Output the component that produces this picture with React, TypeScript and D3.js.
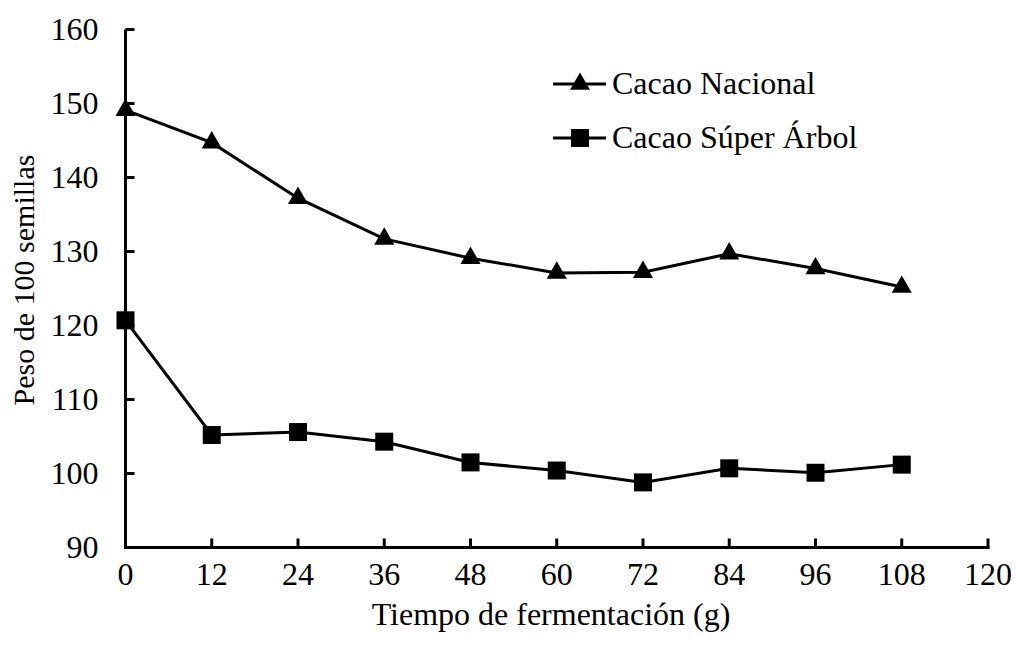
import React from "react";
import * as d3 from "d3";

const hours = [0, 12, 24, 36, 48, 60, 72, 84, 96, 108];
const nacional = [149.1, 144.7, 137.2, 131.7, 129.1, 127.1, 127.2, 129.7, 127.7, 125.2];
const superArbol = [120.7, 105.2, 105.6, 104.3, 101.5, 100.4, 98.8, 100.7, 100.1, 101.2];
const xTicks = [0, 12, 24, 36, 48, 60, 72, 84, 96, 108, 120];
const yTicks = [90, 100, 110, 120, 130, 140, 150, 160];
const seriesNames = ["Cacao Nacional", "Cacao Súper Árbol"];

const W = 1016;
const H = 645;
const FONT = '"Times New Roman", "Liberation Serif", Times, serif';

export default function App() {
  const x = d3.scaleLinear().domain([0, 120]).range([125.5, 988]);
  const y = d3.scaleLinear().domain([90, 160]).range([547.5, 29.5]);
  const line = d3
    .line<number>()
    .x((_, i) => x(hours[i]))
    .y((d) => y(d));
  const tri = d3.symbol().type(d3.symbolTriangle).size(175)();
  const fs = 32;
  const ts = { fontFamily: FONT, fontSize: fs } as React.CSSProperties;
  const ys = { fontFamily: FONT, fontSize: 30 } as React.CSSProperties;

  return (
    <svg
      width={W}
      height={H}
      style={{ position: "absolute", left: 0, top: 0, background: "#fff" }}
    >
      <rect width={W} height={H} fill="#fff" />
      {/* axes */}
      <line x1={x(0)} x2={x(0)} y1={y(160)} y2={y(90) + 1.5} stroke="#000" strokeWidth={3} />
      <line x1={x(0) - 1.5} x2={x(120) + 1.5} y1={y(90)} y2={y(90)} stroke="#000" strokeWidth={3} />
      {yTicks.map((t) => (
        <g key={"y" + t}>
          <line x1={x(0)} x2={x(0) + 9} y1={y(t)} y2={y(t)} stroke="#000" strokeWidth={3} />
          <text x={x(0) - 27} y={y(t) + 10.5} textAnchor="end" style={ts}>
            {t}
          </text>
        </g>
      ))}
      {xTicks.map((t) => (
        <g key={"x" + t}>
          <line x1={x(t)} x2={x(t)} y1={y(90)} y2={y(90) - 9} stroke="#000" strokeWidth={3} />
          <text x={x(t)} y={585} textAnchor="middle" style={ts}>
            {t}
          </text>
        </g>
      ))}
      <text x={551} y={625} textAnchor="middle" style={ts}>
        Tiempo de fermentación (g)
      </text>
      <text transform={`translate(34,280) rotate(-90)`} textAnchor="middle" style={ys}>
        Peso de 100 semillas
      </text>
      {/* series */}
      <path d={line(nacional) || ""} fill="none" stroke="#000" strokeWidth={3} />
      <path d={line(superArbol) || ""} fill="none" stroke="#000" strokeWidth={3} />
      {nacional.map((v, i) => (
        <path key={"n" + i} d={tri || ""} transform={`translate(${x(hours[i])},${y(v)})`} fill="#000" />
      ))}
      {superArbol.map((v, i) => (
        <rect key={"s" + i} x={x(hours[i]) - 9} y={y(v) - 9} width={18} height={18} fill="#000" />
      ))}
      {/* legend */}
      <g>
        <line x1={553} x2={606} y1={84} y2={84} stroke="#000" strokeWidth={3} />
        <path d={tri || ""} transform="translate(580,84)" fill="#000" />
        <text x={612} y={94} style={ts}>
          {seriesNames[0]}
        </text>
        <line x1={553} x2={606} y1={138} y2={138} stroke="#000" strokeWidth={3} />
        <rect x={571} y={129} width={18} height={18} fill="#000" />
        <text x={612} y={148} style={ts}>
          {seriesNames[1]}
        </text>
      </g>
    </svg>
  );
}
